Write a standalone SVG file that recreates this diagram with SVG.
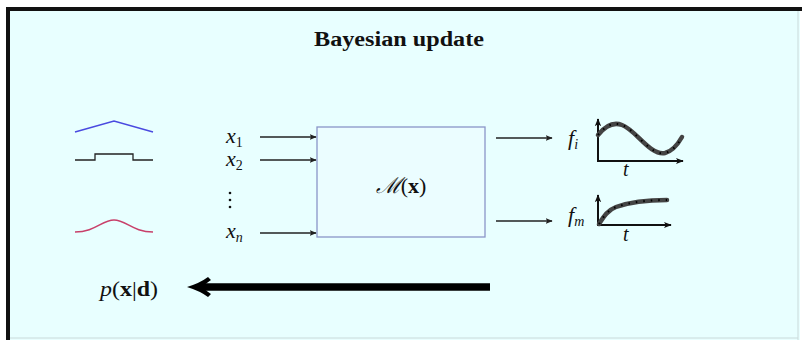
<svg xmlns="http://www.w3.org/2000/svg" width="802" height="340" viewBox="0 0 802 340">
<style>
  .math { font-family: "Liberation Serif", "DejaVu Serif", serif; fill: #111; }
  .it { font-style: italic; }
  .bf { font-weight: bold; font-style: normal; }
  .sub { font-size: 14px; }
  .conn { stroke: #222; stroke-width: 1.3; fill: none; }
  .axis { stroke: #111; stroke-width: 2; fill: none; }
  .band { stroke: #444; stroke-width: 4.5; fill: none; stroke-linecap: round; }
  .dots { stroke: #000; stroke-width: 2; fill: none; stroke-dasharray: 1.5 6; }
</style>
<defs>
  <marker id="ah" viewBox="0 0 10 10" refX="9" refY="5" markerWidth="7" markerHeight="7" markerUnits="userSpaceOnUse" orient="auto">
    <path d="M0,1 L10,5 L0,9 L2,5 Z" fill="#222"/>
  </marker>
  <marker id="ax" viewBox="0 0 10 10" refX="9" refY="5" markerWidth="8" markerHeight="8" markerUnits="userSpaceOnUse" orient="auto">
    <path d="M0,1 L10,5 L0,9 L2.5,5 Z" fill="#111"/>
  </marker>
</defs>
<rect x="0" y="0" width="802" height="340" fill="#ffffff"/>
<rect x="8" y="9" width="792" height="331" fill="#e8ffff"/>
<line x1="798" y1="10" x2="798" y2="340" stroke="#c9dada" stroke-width="1"/>
<line x1="8" y1="338" x2="798" y2="338" stroke="#c9dada" stroke-width="1"/>
<line x1="6" y1="9" x2="802" y2="9" stroke="#111" stroke-width="4"/>
<line x1="8" y1="7" x2="8" y2="340" stroke="#111" stroke-width="4"/>

<g id="title">
  <text x="399" y="46" text-anchor="middle" font-family="Liberation Serif, DejaVu Serif, serif" font-weight="bold" font-size="20" textLength="170" lengthAdjust="spacingAndGlyphs" fill="#111">Bayesian update</text>
</g>

<g id="priors">
  <polyline points="75,132 114,121 153,132" fill="none" stroke="#4a4ae0" stroke-width="1.5"/>
  <polyline points="75,160 95,160 95,154 133,154 133,160 153,160" fill="none" stroke="#222" stroke-width="1.3"/>
  <path d="M75,232 C95,232 102,220 114,220 C126,220 133,232 153,232" fill="none" stroke="#c8406a" stroke-width="1.5"/>
</g>

<g id="inputs">
  <text class="math it" x="226" y="143" font-size="22">x<tspan class="sub" dy="4" font-style="normal">1</tspan></text>
  <text class="math it" x="226" y="166" font-size="22">x<tspan class="sub" dy="4" font-style="normal">2</tspan></text>
  <circle cx="230" cy="193" r="1.3" fill="#111"/>
  <circle cx="230" cy="200" r="1.3" fill="#111"/>
  <circle cx="230" cy="207" r="1.3" fill="#111"/>
  <text class="math it" x="226" y="238" font-size="22">x<tspan class="sub it" dy="4">n</tspan></text>
</g>

<g id="model">
  <rect x="317" y="127" width="168" height="110" fill="#ebfdff" stroke="#8a96c8" stroke-width="1.3"/>
  <text class="math" x="401" y="193" text-anchor="middle" font-size="22"><tspan font-family="DejaVu Serif, serif" font-style="italic">ℳ</tspan>(<tspan class="bf">x</tspan>)</text>
</g>

<g id="output-fi">
  <text class="math it" x="568" y="145" font-size="22">f<tspan class="sub it" dy="4">i</tspan></text>
  <line class="axis" x1="598" y1="161" x2="598" y2="119" marker-end="url(#ax)"/>
  <line class="axis" x1="597" y1="161" x2="683" y2="161" marker-end="url(#ax)"/>
  <path class="band" d="M598,135 C606,125 614,122 622,125 C636,130 650,156 665,153 C673,151 678,144 682,137"/>
  <path class="dots" d="M598,135 C606,125 614,122 622,125 C636,130 650,156 665,153 C673,151 678,144 682,137"/>
  <text class="math it" x="623" y="176" font-size="20">t</text>
</g>

<g id="output-fm">
  <text class="math it" x="568" y="222" font-size="22">f<tspan class="sub it" dy="4">m</tspan></text>
  <line class="axis" x1="598" y1="225" x2="598" y2="195" marker-end="url(#ax)"/>
  <line class="axis" x1="597" y1="225" x2="671" y2="225" marker-end="url(#ax)"/>
  <path class="band" d="M599,224 C604,216 608,210 616,207 C630,202 648,200 667,200"/>
  <path class="dots" d="M599,224 C604,216 608,210 616,207 C630,202 648,200 667,200"/>
  <text class="math it" x="623" y="241" font-size="20">t</text>
</g>

<g id="posterior">
  <text class="math" x="100" y="296" font-size="21" textLength="58" lengthAdjust="spacingAndGlyphs"><tspan class="it">p</tspan>(<tspan class="bf">x</tspan>|<tspan class="bf">d</tspan>)</text>
</g>

<g id="connectors">
  <line class="conn" x1="260" y1="137" x2="316" y2="137" marker-end="url(#ah)"/>
  <line class="conn" x1="260" y1="160" x2="316" y2="160" marker-end="url(#ah)"/>
  <line class="conn" x1="260" y1="233" x2="316" y2="233" marker-end="url(#ah)"/>
  <line class="conn" x1="496" y1="138" x2="552" y2="138" marker-end="url(#ah)"/>
  <line class="conn" x1="496" y1="221" x2="552" y2="221" marker-end="url(#ah)"/>
  <line x1="490" y1="287" x2="200" y2="287" stroke="#000" stroke-width="7.5"/>
  <path d="M187,287 Q200,283 208,277 L211,280 Q204,285 202,287 Q204,289 211,294 L208,297 Q200,291 187,287 Z" fill="#000"/>
</g>
</svg>
